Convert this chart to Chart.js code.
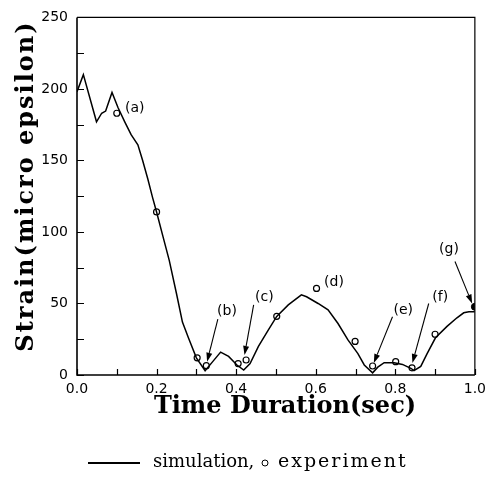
<!DOCTYPE html>
<html><head><meta charset="utf-8">
<script src="https://cdn.jsdelivr.net/npm/chart.js@4"></script>
<style>html,body{margin:0;padding:0;background:#fff;}#wrap{width:492px;height:477px;}</style>
</head><body><div id="wrap"><canvas id="c" width="492" height="477"></canvas></div>
<script>
// ---- data ----
const simX = [0, 0.016, 0.049, 0.062, 0.072, 0.088, 0.103, 0.12, 0.136, 0.153, 0.165, 0.178, 0.19, 0.2, 0.215, 0.232, 0.25, 0.265, 0.28, 0.3, 0.322, 0.34, 0.361, 0.381, 0.402, 0.419, 0.435, 0.456, 0.481, 0.502, 0.531, 0.564, 0.577, 0.606, 0.631, 0.656, 0.681, 0.706, 0.722, 0.743, 0.756, 0.772, 0.797, 0.818, 0.839, 0.847, 0.864, 0.88, 0.901, 0.93, 0.955, 0.972, 0.985, 1.0];
const simY = [198, 210, 177, 183, 184.5, 197.5, 187, 177, 168, 161, 150, 137, 124, 114, 98, 80, 57, 37, 26, 12, 3, 9, 16, 13, 7, 3.5, 8, 20, 31.5, 41, 49, 56, 54.7, 50, 45.5, 36, 24.5, 15, 7, 1.5, 5.5, 8.6, 8.6, 7.4, 4.7, 3, 6, 15, 26, 34, 40, 43.5, 44.2, 44.2];
const expX = [0.1, 0.2, 0.302, 0.325, 0.405, 0.425, 0.502, 0.602, 0.699, 0.743, 0.801, 0.842, 0.9];
const expY = [183, 114, 12, 6.5, 8, 10.5, 41, 60.5, 23.5, 6.3, 9.3, 5, 28.5];
const endX = [1.0];
const endY = [47.7];
const xTickVals = [0, 0.1, 0.2, 0.3, 0.4, 0.5, 0.6, 0.7, 0.8, 0.9, 1.0];
const xTickLabels = ['0.0', '', '0.2', '', '0.4', '', '0.6', '', '0.8', '', '1.0'];
const yTickVals = [0, 25, 50, 75, 100, 125, 150, 175, 200, 225, 250];
const yTickLabels = ['0', '', '50', '', '100', '', '150', '', '200', '', '250'];
const noteText = ['(a)', '(b)', '(c)', '(d)', '(e)', '(f)', '(g)'];
const noteX = [0.145, 0.377, 0.471, 0.646, 0.820, 0.913, 0.935];
const noteY = [186.5, 44.7, 54.5, 65, 45.4, 54.5, 88];
const arrowFromX = [null, 0.354, 0.444, null, 0.793, 0.884, 0.950];
const arrowFromY = [null, 39, 49, null, 40.7, 50, 79.3];
const arrowToX = [null, 0.327, 0.421, null, 0.746, 0.843, 0.993];
const arrowToY = [null, 9.3, 14, null, 8.4, 8.4, 50];
const xTitle = 'Time Duration(sec)';
const yTitle = 'Strain(micro epsilon)';
const legendSim = 'simulation,';
const legendExp = 'experiment';

const sim = simX.map((x, i) => ({x, y: simY[i]}));
const exp = expX.map((x, i) => ({x, y: expY[i]}));
const end = endX.map((x, i) => ({x, y: endY[i]}));

const sans = '"DejaVu Sans", sans-serif';

const decor = {
  id: 'decor',
  afterDraw(chart) {
    const ctx = chart.ctx, a = chart.chartArea;
    const xs = chart.scales.x, ys = chart.scales.y;
    ctx.save();
    ctx.strokeStyle = '#000';
    ctx.lineWidth = 1.2;
    ctx.beginPath();
    ctx.moveTo(a.left, a.top); ctx.lineTo(a.right, a.top); ctx.lineTo(a.right, a.bottom);
    ctx.stroke();
    ctx.lineWidth = 1.6;
    ctx.beginPath();
    ctx.moveTo(a.left, a.top); ctx.lineTo(a.left, a.bottom); ctx.lineTo(a.right, a.bottom);
    ctx.stroke();
    ctx.lineWidth = 1.2;
    ctx.beginPath();
    xTickVals.forEach(v => { const px = Math.round(xs.getPixelForValue(v)) + 0.5; ctx.moveTo(px, a.bottom); ctx.lineTo(px, a.bottom - 6); });
    yTickVals.forEach(v => { const py = Math.round(ys.getPixelForValue(v)) + 0.5; ctx.moveTo(a.left, py); ctx.lineTo(a.left + 7, py); });
    ctx.stroke();
    ctx.fillStyle = '#000';
    ctx.font = '14px ' + sans;
    ctx.textAlign = 'center'; ctx.textBaseline = 'middle';
    noteText.forEach((t, i) => {
      ctx.fillText(t, xs.getPixelForValue(noteX[i]), ys.getPixelForValue(noteY[i]));
      if (arrowFromX[i] !== null) {
        const x1 = xs.getPixelForValue(arrowFromX[i]), y1 = ys.getPixelForValue(arrowFromY[i]);
        const x2 = xs.getPixelForValue(arrowToX[i]), y2 = ys.getPixelForValue(arrowToY[i]);
        const ang = Math.atan2(y2 - y1, x2 - x1);
        const L = 9, W = 3;
        const bx = x2 - L * Math.cos(ang), by = y2 - L * Math.sin(ang);
        ctx.lineWidth = 1.1;
        ctx.beginPath(); ctx.moveTo(x1, y1); ctx.lineTo(bx, by); ctx.stroke();
        ctx.beginPath();
        ctx.moveTo(x2, y2);
        ctx.lineTo(bx + W * Math.sin(ang), by - W * Math.cos(ang));
        ctx.lineTo(bx - W * Math.sin(ang), by + W * Math.cos(ang));
        ctx.closePath(); ctx.fill();
      }
    });
    // axis titles
    ctx.font = 'bold 24px "DejaVu Serif", serif';
    ctx.textAlign = 'center'; ctx.textBaseline = 'middle';
    ctx.fillText(xTitle, 285, 407);
    ctx.save();
    ctx.translate(27, 186); ctx.rotate(-Math.PI / 2);
    ctx.letterSpacing = '2px';
    ctx.fillText(yTitle, 0, 0);
    ctx.restore();
    // legend
    ctx.lineWidth = 2;
    ctx.beginPath(); ctx.moveTo(88, 463); ctx.lineTo(140, 463); ctx.stroke();
    ctx.textAlign = 'left';
    ctx.font = '18px "DejaVu Serif", serif';
    ctx.fillText(legendSim, 153, 462);
    ctx.lineWidth = 1;
    ctx.beginPath(); ctx.arc(265, 463, 3, 0, Math.PI * 2); ctx.stroke();
    ctx.font = '19px "DejaVu Serif", serif';
    ctx.letterSpacing = '2px';
    ctx.fillText(legendExp, 278, 462);
    ctx.restore();
  }
};

new Chart(document.getElementById('c'), {
  type: 'scatter',
  data: {
    datasets: [
      {label: 'simulation', data: sim, showLine: true, borderColor: '#000', borderWidth: 1.5, pointRadius: 0, tension: 0, fill: false},
      {label: 'experiment', data: exp, showLine: false, borderColor: '#000', backgroundColor: '#fff', borderWidth: 1.2, pointRadius: 3, pointStyle: 'circle'},
      {label: 'end', data: end, showLine: false, borderColor: '#000', backgroundColor: '#000', borderWidth: 1, pointRadius: 3.5}
    ]
  },
  options: {
    responsive: false, animation: false, devicePixelRatio: 1,
    layout: {padding: {left: 0, right: 14, top: 16, bottom: 0}},
    plugins: {legend: {display: false}, tooltip: {enabled: false}},
    scales: {
      x: {
        type: 'linear', min: 0, max: 1,
        afterFit(s) { s.height = 102; },
        afterBuildTicks(s) { s.ticks = xTickVals.map(v => ({value: v})); },
        ticks: {autoSkip: false, maxRotation: 0, padding: 6, color: '#000', font: {family: sans, size: 14},
          callback: (v, i) => xTickLabels[i]},
        grid: {display: false, drawTicks: false},
        border: {display: false}
      },
      y: {
        type: 'linear', min: 0, max: 250,
        afterFit(s) { s.width = 77; },
        afterBuildTicks(s) { s.ticks = yTickVals.map(v => ({value: v})); },
        ticks: {autoSkip: false, padding: 9, color: '#000', font: {family: sans, size: 14},
          callback: (v, i) => yTickLabels[i]},
        grid: {display: false, drawTicks: false},
        border: {display: false}
      }
    }
  },
  plugins: [decor]
});
</script></body></html>
